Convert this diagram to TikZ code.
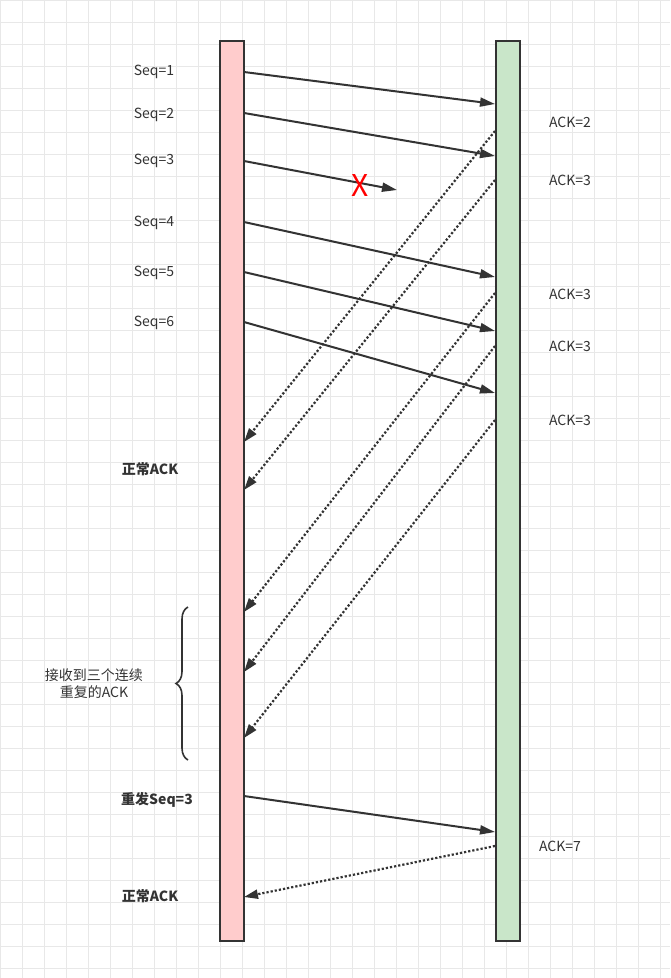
\documentclass[tikz,border=0pt]{standalone}
\usepackage{fontspec}
\setmainfont{Noto Sans CJK SC}
\usetikzlibrary{arrows.meta,decorations.pathreplacing}
\definecolor{grid}{HTML}{E8E8E8}
\definecolor{pinkf}{HTML}{FFCCCC}
\definecolor{greenf}{HTML}{C9E6C9}
\definecolor{ln}{HTML}{333333}
\begin{document}
\begin{tikzpicture}[x=1pt,y=-1pt,
  bar/.style={draw=ln,line width=2.2pt},
  msg/.style={draw=ln,line width=2pt,-{Triangle[length=15pt,width=9pt]}},
  ack/.style={draw=ln,line width=2.2pt,dotted,-{Triangle[length=14pt,width=9pt]}},
  lbl/.style={font=\fontsize{14}{17}\selectfont,text=ln},
  blbl/.style={font=\fontsize{14}{17}\selectfont\bfseries,text=ln}]
\fill[white] (0,0) rectangle (670,978);
\useasboundingbox (0,0) rectangle (670,978);
\foreach \gx in {0,22,...,670} \draw[grid,line width=0.8pt] (\gx,0) -- (\gx,978);
\foreach \gy in {0,22,...,978} \draw[grid,line width=0.8pt] (0,\gy) -- (670,\gy);
\node[bar,fill=pinkf,minimum width=24pt,minimum height=900pt,inner sep=0] (L) at (232,491) {};
\node[bar,fill=greenf,minimum width=24pt,minimum height=900pt,inner sep=0] (R) at (508,491) {};
\foreach \n/\y in {s1/72,s2/113,s3/161,s4/222,s5/272,s6/322,rs/796,a2/442,a3a/490,a3b/612,a3c/672,a3d/738,a7/897}
  \coordinate (\n) at (244,\y);
\foreach \n/\y in {r1/104,r2/156,r4/277,r5/331,r6/393,rr/832,b2/131,b3a/180,b3b/293,b3c/346,b3d/420,b7/846}
  \coordinate (\n) at (495,\y);
\coordinate (lost) at (397,190);
\draw[msg] (s1) -- (r1);
\draw[msg] (s2) -- (r2);
\draw[msg] (s3) -- (lost);
\draw[msg] (s4) -- (r4);
\draw[msg] (s5) -- (r5);
\draw[msg] (s6) -- (r6);
\draw[msg] (rs) -- (rr);
\draw[ack] (b2) -- (a2);
\draw[ack] (b3a) -- (a3a);
\draw[ack] (b3b) -- (a3b);
\draw[ack] (b3c) -- (a3c);
\draw[ack] (b3d) -- (a3d);
\draw[ack] (b7) -- (a7);
\node[text=red,font=\fontsize{30}{30}\selectfont] (x) at (360,185) {X};
\foreach \t/\y [count=\i] in {1/72,2/115,3/161,4/223,5/273,6/323}
  \node[lbl] (seq\i) at (154,\y) {Seq=\t};
\foreach \y [count=\i] in {122,180,294,346,420}
  \node[lbl] (ackl\i) at (570,\y) {ACK=\ifnum\i=1 2\else 3\fi};
\node[lbl] (ack7) at (560,846) {ACK=7};
\node[blbl] (n1) at (150,469) {正常ACK};
\node[blbl] (n2) at (157,800) {重发Seq=3};
\node[blbl] (n3) at (150,896) {正常ACK};
\node[lbl,align=center] (rx) at (94,684) {接收到三个连续\\重复的ACK};
\draw[ln,line width=1.6pt,decorate,decoration={brace,amplitude=12pt,mirror}] (188,607) -- (188,760);
\end{tikzpicture}
\end{document}
